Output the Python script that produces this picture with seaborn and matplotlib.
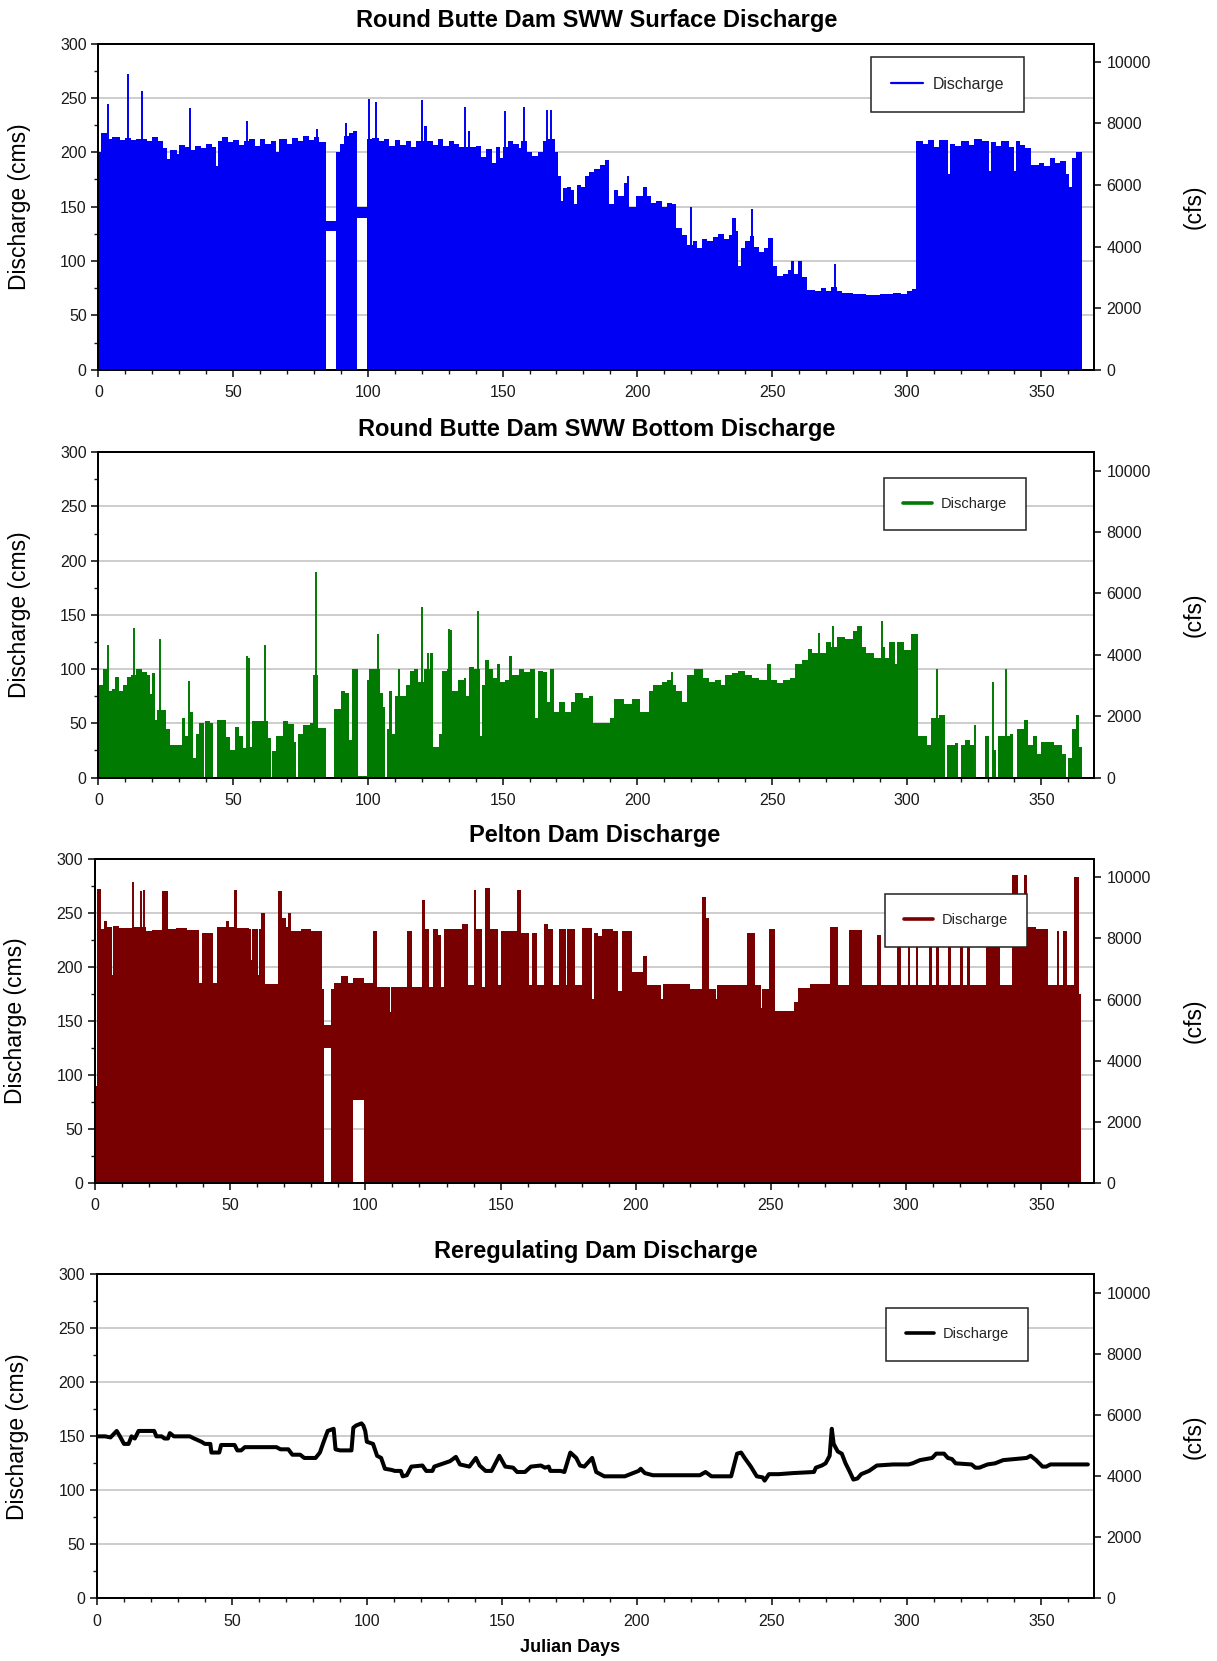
import matplotlib
matplotlib.use("Agg")
import matplotlib.pyplot as plt
import seaborn as sns
import pandas as pd
from matplotlib.ticker import MultipleLocator
from matplotlib.lines import Line2D

sns.set_theme(style="ticks")
plt.rcParams['font.family'] = ['Liberation Sans', 'DejaVu Sans']

CFS_PER_CMS = 35.3147

titles = ["Round Butte Dam SWW Surface Discharge", "Round Butte Dam SWW Bottom Discharge",
          "Pelton Dam Discharge", "Reregulating Dam Discharge"]
colors = ["#0000F4", "#007A00", "#780000", "#000000"]
legend_label = "Discharge"
ylabel_left = "Discharge (cms)"
ylabel_right = "(cfs)"
xlabel = "Julian Days"
y_ticks = [0, 50, 100, 150, 200, 250, 300]
cfs_ticks = [0, 2000, 4000, 6000, 8000, 10000]
x_ticks = [0, 50, 100, 150, 200, 250, 300, 350]

# ---------- Panel 1: upper envelope of hourly surface discharge (cms) ----------
p1_day = [0, 1, 3, 5, 8, 10, 12, 14, 18, 20,
          22, 24, 25.5, 26.5, 29, 30, 32, 34.5, 36, 38,
          40, 42, 43.8, 44.3, 46, 48, 50, 52, 54, 56,
          58, 60, 62, 64, 66, 67, 70, 72, 74, 76,
          78, 80, 82, 84.4, 88.2, 89.5, 91, 93, 95, 96.1,
          99.6, 101.5, 104, 106, 108, 110, 112, 114, 116, 118,
          121, 122, 124, 126, 128, 130, 132, 134, 137, 138,
          140, 142, 144, 146, 147.5, 149, 150, 152, 154, 156,
          157, 159, 161, 163, 165, 167, 169.5, 170.5, 171.5, 172.5,
          174, 175.5, 176.5, 177.5, 179, 180.5, 182, 184, 186, 188,
          189.5, 191.5, 193, 195, 197, 199.5, 202, 203.5, 205, 207,
          209, 211, 213, 214.5, 216.5, 218.5, 220.5, 222, 224, 226,
          228, 230, 232, 234, 235.3, 236.5, 237.5, 238.5, 240, 242,
          243.5, 245, 247, 248.5, 250.3, 252, 254, 256, 257, 258,
          259.5, 261, 263, 266, 268, 270, 272, 274, 276, 280,
          285, 290, 295, 298, 300, 302, 303.5, 306, 308, 310,
          312, 315.5, 316.2, 318, 320, 323, 325, 328, 330.5, 331.2,
          333, 335, 338, 340, 340.7, 342, 344, 346, 349, 351,
          353, 355, 357, 359, 360.3, 361.5, 363, 365]
p1_top = [200, 218, 212, 214, 211, 213, 211, 212, 210, 214,
          210, 204, 194, 202, 198, 207, 205, 202, 206, 204,
          208, 205, 187, 210, 214, 209, 211, 207, 210, 212,
          206, 212, 208, 210, 200, 212, 208, 213, 210, 215,
          211, 214, 209, 0, 200, 208, 215, 218, 220, 0,
          212, 213, 210, 212, 206, 211, 207, 210, 205, 210,
          224, 210, 207, 212, 206, 210, 208, 205, 220, 205,
          206, 196, 203, 190, 205, 195, 205, 210, 208, 204,
          210, 200, 197, 200, 210, 212, 200, 178, 155, 167,
          168, 165, 152, 170, 168, 178, 182, 185, 188, 193,
          152, 165, 160, 172, 150, 160, 168, 160, 153, 155,
          150, 153, 152, 130, 124, 115, 118, 112, 120, 118,
          122, 125, 120, 124, 140, 128, 95, 112, 118, 123,
          113, 108, 112, 121, 95, 86, 88, 92, 100, 88,
          100, 85, 73, 72, 75, 72, 76, 72, 71, 70,
          69, 70, 71, 70, 72, 74, 210, 208, 211, 205,
          211, 180, 208, 206, 210, 207, 212, 210, 183, 209,
          206, 210, 205, 183, 210, 207, 204, 188, 190, 187,
          195, 190, 192, 180, 168, 195, 200, 203]
p1_spike_day = [3.5, 11, 16, 34, 55, 81, 92, 95, 100.5, 103,
                120, 136, 151, 158, 166.5, 168, 196.5, 220, 242.7, 273.5]
p1_spike_val = [244, 272, 256, 241, 229, 221, 227, 220, 249, 246,
                248, 242, 238, 242, 239, 239, 178, 150, 148, 97]
p1_band_start = [84.4, 96.1]
p1_band_end = [88.2, 99.6]
p1_band_low = [128, 140]
p1_band_top = [137, 150]

# ---------- Panel 2: bottom discharge envelope (cms) ----------
p2_day = [0, 1.7, 3, 5, 6, 7.5, 9, 10.5, 12, 13.8,
          16, 18, 19, 19.8, 21, 21.8, 23.5, 25, 26.5, 31,
          32, 34, 35, 36.2, 37.5, 39, 39.5, 41.5, 42.6, 44,
          47.5, 49, 50.5, 52, 53.5, 55, 57, 61.5, 63, 64,
          64.5, 66, 68.5, 70.5, 72.5, 73.5, 74, 76, 78.5, 79.5,
          81.5, 84.5, 87.5, 90, 91.5, 93, 94, 96.5, 99.5, 100.5,
          103, 104.5, 105.5, 106.5, 107, 108, 109, 110, 111, 112,
          114, 115.5, 117, 118.5, 121, 123, 124, 126.5, 127.5, 129.5,
          131, 133.5, 135.5, 136.5, 137.5, 139.5, 141.5, 142.2, 143.5, 145,
          146.5, 148, 149, 151, 152.5, 153.5, 156, 158, 160, 162,
          163, 165, 166.5, 167.5, 169, 171, 173, 175.5, 177, 180,
          182, 183.5, 190, 191.5, 195, 198, 201, 204.5, 206, 209,
          211, 213, 214.5, 216.5, 218.5, 221, 224.5, 226.5, 229, 231,
          232.5, 235, 237.5, 240, 242.5, 245, 248, 249.5, 252, 254,
          256.5, 258.5, 261, 263.5, 265, 268, 270, 272, 274, 277,
          280, 281.5, 283.5, 285, 288, 290.5, 292, 293.5, 295.5, 296.5,
          299, 301.5, 304.3, 307.5, 309, 312, 314.3, 315, 318, 319,
          320, 321.5, 323.5, 325, 329, 330.5, 331.5, 333, 334, 338.5,
          339.5, 341, 343.5, 345, 347, 348.5, 350, 353, 354.5, 357.5,
          359, 360, 361.5, 363, 364, 365]
p2_top = [85, 100, 80, 82, 93, 80, 85, 93, 95, 100,
          97, 95, 77, 96, 53, 62, 62, 45, 30, 55,
          38, 60, 18, 40, 50, 0, 52, 50, 0, 53,
          37, 25, 47, 38, 27, 28, 52, 52, 36, 0,
          24, 38, 52, 49, 33, 0, 40, 48, 50, 95,
          46, 0, 63, 80, 78, 35, 100, 1, 90, 100,
          100, 78, 65, 0, 45, 80, 40, 75, 100, 75,
          85, 98, 100, 88, 100, 115, 28, 40, 98, 100,
          80, 90, 92, 75, 102, 100, 38, 85, 108, 100,
          92, 105, 88, 90, 112, 95, 100, 97, 100, 55,
          98, 97, 70, 100, 60, 70, 60, 70, 78, 73,
          75, 50, 55, 72, 68, 72, 60, 80, 85, 88,
          90, 85, 80, 70, 95, 100, 92, 88, 90, 85,
          95, 96, 98, 95, 92, 90, 105, 90, 87, 90,
          92, 105, 108, 119, 115, 115, 125, 120, 130, 128,
          135, 140, 120, 115, 110, 120, 110, 125, 105, 125,
          118, 132, 38, 30, 55, 58, 0, 30, 32, 0,
          30, 35, 30, 0, 38, 0, 25, 0, 38, 40,
          0, 45, 53, 30, 38, 22, 33, 33, 30, 22,
          0, 18, 45, 58, 28, 28]
p2_spike_day = [3.7, 13.2, 23, 33.5, 55, 56, 62, 80.9, 103.7, 120,
                122.5, 130, 131, 140.9, 212.7, 267.5, 272.7, 290.9, 311.4, 325.5,
                332, 337]
p2_spike_val = [122, 138, 128, 89, 112, 110, 122, 190, 132, 157,
                115, 137, 136, 154, 97, 133, 140, 144, 100, 48,
                88, 100]

# ---------- Panel 3: Pelton Dam discharge envelope (cms) ----------
p3_day = [0, 0.7, 2.2, 3.2, 4.4, 6.1, 6.6, 9, 13.5, 17,
          19, 21, 24.8, 27, 30, 34, 38.3, 39.4, 43.8, 45.2,
          48.5, 49.5, 51.3, 52.6, 57, 57.5, 58, 60.2, 60.8, 61.3,
          62.8, 67.8, 69.3, 70.5, 71.5, 72.5, 76, 80, 84, 84.6,
          87.2, 88.3, 91, 93.4, 95.3, 99.5, 102.7, 104.3, 109.2, 109.6,
          115.5, 117.4, 121, 122.1, 123.5, 125, 127, 128, 129, 135.6,
          137.8, 140, 141, 143, 144.4, 146, 149, 150, 156, 157.6,
          160.5, 161.5, 163.5, 166, 167.5, 169.5, 171.6, 174, 174.7, 177.6,
          180, 183.8, 184.5, 186, 187.5, 191.5, 193.3, 194.8, 198.5, 200.5,
          202.5, 204, 209.5, 210, 220, 224.4, 225.8, 227, 229.5, 230,
          241, 244, 246.3, 246.7, 249.2, 251.4, 258.5, 260, 264.5, 271.8,
          274.7, 279, 283.5, 289.3, 290.8, 296.6, 298, 300.5, 301.5, 303.5,
          304.3, 308.5, 309.5, 311, 312, 315.5, 316.5, 320, 321, 322.5,
          323.5, 329.5, 334.6, 339, 341.2, 343.4, 344.8, 348, 352.5, 355.8,
          356.6, 358, 359.5, 362.2, 363.8, 364.6]
p3_top = [90, 272, 235, 243, 237, 193, 238, 236, 237, 237,
          233, 234, 270, 235, 236, 234, 185, 232, 185, 237,
          243, 237, 271, 236, 235, 207, 235, 193, 235, 250,
          184, 270, 245, 237, 250, 233, 235, 233, 180, 0,
          180, 185, 192, 185, 0, 185, 233, 182, 158, 182,
          233, 182, 262, 235, 182, 235, 230, 182, 235, 240,
          183, 271, 235, 182, 273, 235, 183, 233, 271, 232,
          183, 232, 183, 240, 235, 183, 235, 183, 235, 183,
          236, 170, 232, 229, 235, 233, 178, 233, 195, 195,
          210, 183, 170, 184, 180, 265, 245, 180, 170, 183,
          232, 183, 162, 180, 235, 159, 168, 181, 184, 237,
          183, 234, 183, 230, 183, 232, 183, 233, 183, 233,
          183, 233, 183, 233, 183, 233, 183, 233, 183, 233,
          183, 233, 183, 285, 233, 285, 237, 235, 183, 233,
          183, 233, 183, 283, 175, 175]
p3_spike_day = [13.9, 17, 18.2]
p3_spike_val = [279, 270, 271]
p3_band_start = [84.6, 95.3]
p3_band_end = [87.2, 99.5]
p3_band_low = [125, 77]
p3_band_top = [146, 190]

# ---------- Panel 4: Reregulating Dam discharge (cms) ----------
p4_day = [0, 3, 5, 7.3, 8.5, 10, 11.7, 12.8, 14, 15.4,
          21.2, 22, 24, 25, 26.3, 27, 28.5, 34.4, 36, 38.7,
          40, 42, 42.4, 43.9, 45.3, 46, 51, 52, 53.4, 54.8,
          60, 66.5, 68, 70.9, 72.4, 75.3, 76.8, 81, 82.6, 84,
          85.5, 87.7, 88.4, 90, 94.3, 95, 96, 98, 98.7, 99.4,
          100, 102.3, 103.8, 105.3, 106.7, 109, 110.4, 112.6, 113.3, 114.8,
          116.5, 120.6, 122, 124.3, 125, 130.8, 133, 134.5, 138, 140.4,
          141.8, 144, 146.2, 149.1, 151.3, 154.2, 155.7, 158.6, 160.8, 164.5,
          166, 167.4, 168, 171.8, 173.2, 175.4, 177.6, 179, 180.6, 183.5,
          185, 188, 193.4, 195.6, 200.7, 201.5, 203, 206, 215, 223.4,
          225.5, 227.7, 233.6, 235, 237.2, 238.7, 240, 242.3, 244.5, 246.7,
          247.4, 249, 252.6, 258, 265.7, 266.4, 268.6, 270, 271.5, 272.3,
          273, 274.5, 276, 277.4, 278.8, 280.3, 281.8, 283.2, 286.1, 289,
          295, 300.7, 302.2, 305, 309.5, 311, 313.9, 315.3, 316.8, 318.2,
          324.1, 325.5, 327, 330, 332.8, 335.8, 340, 344.5, 346, 348,
          350.4, 351.8, 353.3, 360, 367.2]
p4_cms = [150, 150, 149, 155, 150, 143, 143, 150, 148, 155,
          155, 150, 150, 148, 148, 153, 150, 150, 148, 145,
          143, 143, 135, 135, 135, 142, 142, 137, 137, 140,
          140, 140, 138, 138, 133, 133, 130, 130, 135, 145,
          155, 157, 138, 137, 137, 158, 160, 162, 160, 155,
          145, 143, 132, 130, 120, 119, 118, 118, 113, 114,
          122, 123, 118, 118, 122, 127, 131, 124, 122, 130,
          123, 118, 118, 132, 122, 121, 117, 117, 122, 123,
          121, 122, 118, 118, 117, 135, 130, 123, 122, 130,
          117, 113, 113, 113, 118, 120, 116, 114, 114, 114,
          117, 113, 113, 113, 134, 135, 130, 122, 113, 112,
          109, 115, 115, 116, 117, 121, 123, 125, 132, 157,
          143, 136, 134, 125, 118, 110, 111, 115, 118, 123,
          124, 124, 125, 128, 130, 134, 134, 130, 129, 125,
          124, 121, 121, 124, 125, 128, 129, 130, 132, 128,
          122, 122, 124, 124, 124]

# ---------- layout (figure fractions) ----------
fig = plt.figure(figsize=(12.17, 16.61), dpi=100)
axes_rect = [[0.0809, 0.7774, 0.8180, 0.1964],
             [0.0809, 0.5319, 0.8180, 0.1958],
             [0.0781, 0.2877, 0.8209, 0.1951],
             [0.0797, 0.0377, 0.8193, 0.1951]]
legend_anchor = [(0.9297, 0.958), (0.9317, 0.921), (0.933, 0.892), (0.934, 0.896)]

envelopes = [(p1_day, p1_top), (p2_day, p2_top), (p3_day, p3_top), None]
spikes = [(p1_spike_day, p1_spike_val), (p2_spike_day, p2_spike_val),
          (p3_spike_day, p3_spike_val), None]
bands = [(p1_band_start, p1_band_end, p1_band_low, p1_band_top), None,
         (p3_band_start, p3_band_end, p3_band_low, p3_band_top), None]

tick_color = "#1a1a1a"
for i in range(4):
    ax = fig.add_axes(axes_rect[i])
    col = colors[i]
    if envelopes[i] is not None:
        d, t = envelopes[i]
        ax.fill_between(d, 0, t, step='post', color=col, lw=0, zorder=2)
        sd, sv = spikes[i]
        ax.vlines(sd, 0, sv, color=col, lw=1.4, zorder=2)
        if bands[i] is not None:
            bs, be, bl, bt = bands[i]
            for s, e, lo, hi in zip(bs, be, bl, bt):
                ax.fill_between([s, e], lo, hi, color=col, lw=0, zorder=2)
    else:
        df = pd.DataFrame({"day": p4_day, "cms": p4_cms})
        sns.lineplot(data=df, x="day", y="cms", ax=ax, color=col, linewidth=2.9,
                     estimator=None, sort=False, legend=False, zorder=3)

    ax.set_xlim(0, 369.5)
    ax.set_ylim(0, 300)
    ax.set_yticks(y_ticks)
    ax.set_xticks(x_ticks)
    ax.yaxis.set_minor_locator(MultipleLocator(25))
    ax.xaxis.set_minor_locator(MultipleLocator(10))
    ax.yaxis.grid(True, which='major', color='#c9c9c9', lw=1.3, zorder=0)
    ax.xaxis.grid(False)
    ax.set_axisbelow(True)
    ax.tick_params(axis='both', which='major', direction='out', length=5, width=1.2,
                   labelsize=11.5, colors=tick_color, left=True, bottom=True)
    ax.tick_params(axis='both', which='minor', direction='out', length=3, width=1.0,
                   left=True, bottom=True, colors=tick_color)
    ax.tick_params(axis='x', which='major', pad=6)
    for sp in ax.spines.values():
        sp.set_color('black')
        sp.set_linewidth(1.4)
    ax.set_xlabel("")
    ax.set_ylabel(ylabel_left, fontsize=16.5, color='black')
    ax.yaxis.set_label_coords(-0.068, 0.5)
    ax.set_title(titles[i], fontsize=17, fontweight='bold', pad=12, color='black')

    ax2 = ax.twinx()
    ax2.set_ylim(0, 300 * CFS_PER_CMS)
    ax2.set_yticks(cfs_ticks)
    ax2.grid(False)
    ax2.tick_params(axis='y', which='major', direction='out', length=5, width=1.2,
                    labelsize=11.5, colors=tick_color, right=True, pad=4)
    for sp in ax2.spines.values():
        sp.set_color('black')
        sp.set_linewidth(1.4)
    ax2.set_ylabel(ylabel_right, fontsize=16.5, color='black')
    ax2.yaxis.set_label_coords(1.089, 0.5)

    if i == 0:
        h = Line2D([], [], color=col, lw=1.6)
        fs, bp, hl, htp = 11.4, 1.25, 2.05, 0.6
    else:
        h = Line2D([], [], color=col, lw=2.6)
        fs, bp, hl, htp = 10.5, 1.32, 1.95, 0.6
    leg = ax.legend(handles=[h], labels=[legend_label], loc='upper right',
                    bbox_to_anchor=legend_anchor[i], borderaxespad=0, frameon=True,
                    fancybox=False, framealpha=1, edgecolor='#222222', fontsize=fs,
                    borderpad=bp, handlelength=hl, handletextpad=htp)
    leg.get_frame().set_linewidth(1.1)
    leg.set_zorder(10)

    if i == 3:
        ax.set_xlabel(xlabel, fontsize=13, fontweight='bold', color='black')
        ax.xaxis.set_label_coords(0.474, -0.126)
        ax.xaxis.label.set_va('top')

fig.savefig("out.png", dpi=100)
